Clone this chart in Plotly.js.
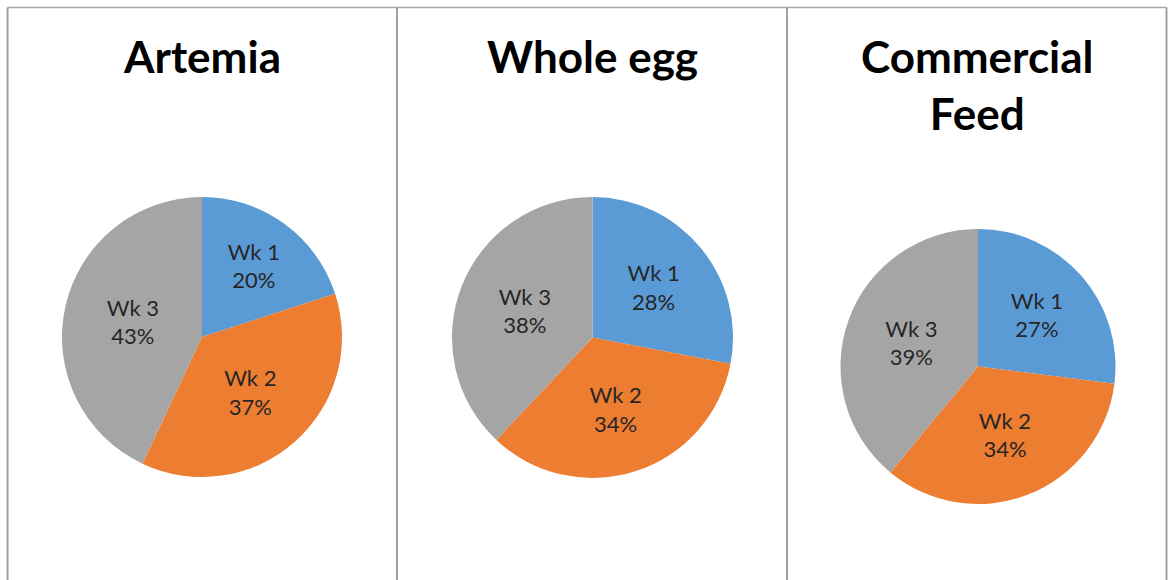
<!DOCTYPE html>
<html>
<head>
<meta charset="utf-8">
<script src="https://cdn.plot.ly/plotly-3.0.1.min.js"></script>
<style>
  html, body { margin: 0; padding: 0; background: #ffffff; }
  #chart { width: 1168px; height: 580px; }
</style>
</head>
<body>
<div id="chart"></div>
<script>
// Share of each week, per diet
const weeks = ["Wk 1", "Wk 2", "Wk 3"];
const artemia = [20, 37, 43];
const wholeEgg = [28, 34, 38];
const commercialFeed = [27, 34, 39];
const diets = ["Artemia", "Whole egg", "Commercial<br>Feed"];
const sliceColors = ["#5b9bd5", "#ed7d31", "#a5a5a5"];

const W = 1168, H = 580;
// pixel boxes for each pie: [left, right, top, bottom]
const boxes = [
  [62, 342, 197, 477],
  [452, 733, 197, 478],
  [840, 1116, 229, 504]
];
const titleX = [202, 592, 977];
const seriesList = [artemia, wholeEgg, commercialFeed];

function dom(b) {
  return { x: [b[0] / W, b[1] / W], y: [(H - b[3]) / H, (H - b[2]) / H] };
}

const traces = seriesList.map((vals, i) => ({
  type: "pie",
  labels: weeks,
  values: vals,
  sort: false,
  direction: "clockwise",
  rotation: 0,
  domain: dom(boxes[i]),
  marker: { colors: sliceColors, line: { width: 0 } },
  textinfo: "label+percent",
  texttemplate: "%{label}<br>%{percent:.0%}",
  textposition: "inside",
  insidetextorientation: "horizontal",
  insidetextfont: { family: "Lato, 'Open Sans', sans-serif", size: 22, color: "#262626" },
  hoverinfo: "label+percent",
  showlegend: false
}));

const titleFont = { family: "Lato, 'Open Sans', sans-serif", size: 44, color: "#000000", weight: 700 };
const annotations = diets.map((t, i) => ({
  text: "<b>" + t + "</b>",
  x: titleX[i] / W,
  y: (H - 28) / H,
  xref: "paper", yref: "paper",
  xanchor: "center", yanchor: "top",
  showarrow: false,
  font: titleFont
}));

const lineStyle = { color: "#a0a0a0", width: 2 };
const shapes = [
  { type: "line", xref: "paper", yref: "paper", x0: 7.5 / W, x1: 1166.5 / W, y0: (H - 7.5) / H, y1: (H - 7.5) / H, line: { color: "#a8a8a8", width: 1.5 } },
  { type: "line", xref: "paper", yref: "paper", x0: 7.5 / W, x1: 7.5 / W, y0: 0, y1: (H - 7.5) / H, line: lineStyle },
  { type: "line", xref: "paper", yref: "paper", x0: 397 / W, x1: 397 / W, y0: 0, y1: (H - 7.5) / H, line: lineStyle },
  { type: "line", xref: "paper", yref: "paper", x0: 787 / W, x1: 787 / W, y0: 0, y1: (H - 7.5) / H, line: lineStyle },
  { type: "line", xref: "paper", yref: "paper", x0: 1166.5 / W, x1: 1166.5 / W, y0: 0, y1: (H - 7.5) / H, line: lineStyle }
];

const layout = {
  width: W,
  height: H,
  margin: { l: 0, r: 0, t: 0, b: 0 },
  paper_bgcolor: "#ffffff",
  annotations: annotations,
  shapes: shapes,
  uniformtext: { mode: "show", minsize: 22 },
  showlegend: false
};

Plotly.newPlot("chart", traces, layout, { displayModeBar: false, staticPlot: true });
</script>
</body>
</html>
